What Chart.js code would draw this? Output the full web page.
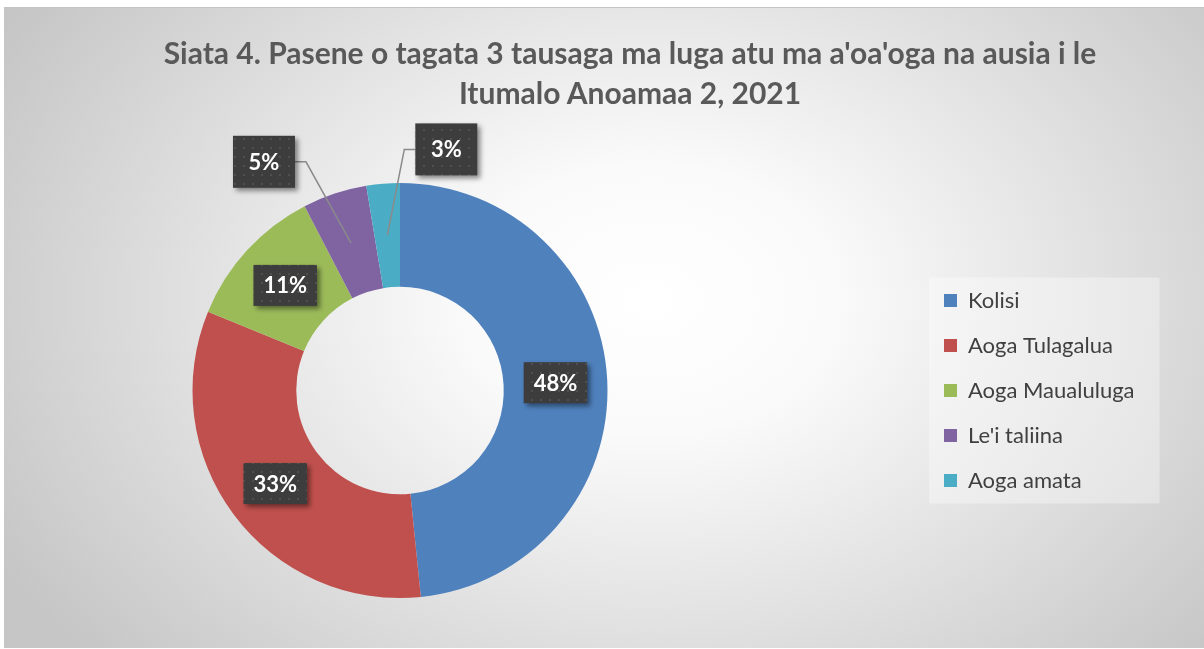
<!DOCTYPE html>
<html>
<head>
<meta charset="utf-8">
<script src="https://cdn.jsdelivr.net/npm/chart.js@4.4.0/dist/chart.umd.min.js"></script>
<style>
  html, body { margin: 0; padding: 0; background: #fff; }
  #frame {
    position: absolute; left: 4px; top: 7px; width: 1200px; height: 640px;
    border-top: 1px solid #c4c4c4;
    background: radial-gradient(ellipse 740px 540px at 646px 292px, #ffffff 0%, #fafafa 25%, #c6c6c6 100%);
    overflow: hidden;
  }
  /* canvas starts left of the frame so the doughnut sits left of centre */
  #chartBox { position: absolute; left: -125px; top: 0; width: 1325px; height: 640px; }
  #title {
    position: absolute; left: 52px; right: 0; top: 24px; margin: 0;
    font: bold 30px Lato, sans-serif; line-height: 40px; color: #595959; text-align: center;
  }
</style>
</head>
<body>
<div id="frame">
  <div id="chartBox"><canvas id="chartDoughnut"></canvas></div>
  <h1 id="title">Siata 4. Pasene o tagata 3 tausaga ma luga atu ma a'oa'oga na ausia i le<br>Itumalo Anoamaa 2, 2021</h1>
</div>
<script>
// Education attained, share of people aged 3+ (percent)
const categories = ['Kolisi', 'Aoga Tulagalua', 'Aoga Maualuluga', "Le'i taliina", 'Aoga amata'];
const shares = [48.4, 32.8, 11.2, 5.0, 2.6];
const sliceColors = ['#4f81bd', '#c0504d', '#9bbb59', '#8064a2', '#4bacc6'];

const canvasWidth = 1325;
const legendFont = { family: 'Lato', size: 22 };
const legendGap = 23;
const legendSquare = 13;
const legendLeft = 1042;

// work out how wide the legend will be so it lands where the original sits
const probe = document.createElement('canvas').getContext('2d');
probe.font = `${legendFont.size}px ${legendFont.family}`;
const widestLabel = Math.max(...categories.map(c => probe.measureText(c).width));
const legendWidth = legendGap + legendSquare + legendFont.size / 2 + widestLabel + 10;

function dotPattern(ctx) {
    const tile = document.createElement('canvas');
    tile.width = tile.height = 9;
    const t = tile.getContext('2d');
    t.fillStyle = '#3d3d3d';
    t.fillRect(0, 0, 9, 9);
    t.fillStyle = '#4f4f4f';
    t.fillRect(4, 4, 2, 2);
    return ctx.createPattern(tile, 'repeat');
}

// light panel behind the legend
const legendPanel = {
    id: 'legendPanel',
    beforeDraw(chart) {
        const boxes = chart.legend && chart.legend.legendHitBoxes;
        if (!boxes || !boxes.length) return;
        const first = boxes[0];
        const last = boxes[boxes.length - 1];
        const right = Math.max(...boxes.map(b => b.left + b.width));
        const ctx = chart.ctx;
        ctx.save();
        ctx.fillStyle = 'rgba(255, 255, 255, 0.35)';
        ctx.fillRect(first.left - 15, first.top - 12, right - first.left + 40, last.top + last.height - first.top + 24);
        ctx.restore();
    }
};

// percent labels in dark boxes, small slices pulled out with leader lines
const sliceLabels = {
    id: 'sliceLabels',
    afterDatasetsDraw(chart, args, opts) {
        const ctx = chart.ctx;
        const meta = chart.getDatasetMeta(0);
        const values = chart.data.datasets[0].data;
        const total = values.reduce((a, b) => a + b, 0);
        if (!this.pattern) this.pattern = dotPattern(ctx);

        ctx.save();
        ctx.font = 'bold 22px Lato';
        ctx.textAlign = 'center';
        ctx.textBaseline = 'middle';

        meta.data.forEach((arc, i) => {
            const p = arc.getProps(['x', 'y', 'startAngle', 'endAngle', 'innerRadius', 'outerRadius'], true);
            const mid = (p.startAngle + p.endAngle) / 2;
            const r = (p.innerRadius + p.outerRadius) / 2;
            const ax = p.x + Math.cos(mid) * r;
            const ay = p.y + Math.sin(mid) * r;
            const shift = opts.moved[i];
            const cx = shift ? ax + shift[0] : ax;
            const cy = shift ? ay + shift[1] : ay;
            const text = Math.round(values[i] / total * 100) + '%';
            const w = Math.max(ctx.measureText(text).width + 20, 62);
            const h = shift ? 52 : 41;

            if (shift) {
                const dir = shift[0] < 0 ? 1 : -1;
                const edgeX = cx + dir * w / 2;
                ctx.beginPath();
                ctx.moveTo(edgeX, cy);
                ctx.lineTo(edgeX + dir * 11, cy);
                ctx.lineTo(ax, ay);
                ctx.strokeStyle = '#8a8a8a';
                ctx.lineWidth = 1.5;
                ctx.stroke();
            }

            ctx.save();
            ctx.shadowColor = 'rgba(0, 0, 0, 0.45)';
            ctx.shadowBlur = 5;
            ctx.shadowOffsetX = 3;
            ctx.shadowOffsetY = 3;
            ctx.fillStyle = this.pattern;
            ctx.fillRect(cx - w / 2, cy - h / 2, w, h);
            ctx.restore();

            ctx.fillStyle = '#ffffff';
            ctx.fillText(text, cx, cy + 1);
        });
        ctx.restore();
    }
};

const ctx = document.getElementById('chartDoughnut').getContext('2d');
new Chart(ctx, {
    type: 'doughnut',
    data: {
        labels: categories,
        datasets: [{
            data: shares,
            backgroundColor: sliceColors,
            borderWidth: 0
        }]
    },
    options: {
        responsive: true,
        maintainAspectRatio: false,
        animation: false,
        events: [],
        cutout: '50%',
        layout: {
            padding: { top: 175, bottom: 50, left: 0, right: canvasWidth - legendLeft - legendWidth }
        },
        plugins: {
            title: { display: false },
            tooltip: { enabled: false },
            legend: {
                position: 'right',
                labels: {
                    boxWidth: legendSquare,
                    boxHeight: legendSquare,
                    padding: legendGap,
                    color: '#404040',
                    font: legendFont
                }
            },
            sliceLabels: {
                moved: { 3: [-87, -81], 4: [59, -86] }
            }
        }
    },
    plugins: [legendPanel, sliceLabels]
});
</script>
</body>
</html>
